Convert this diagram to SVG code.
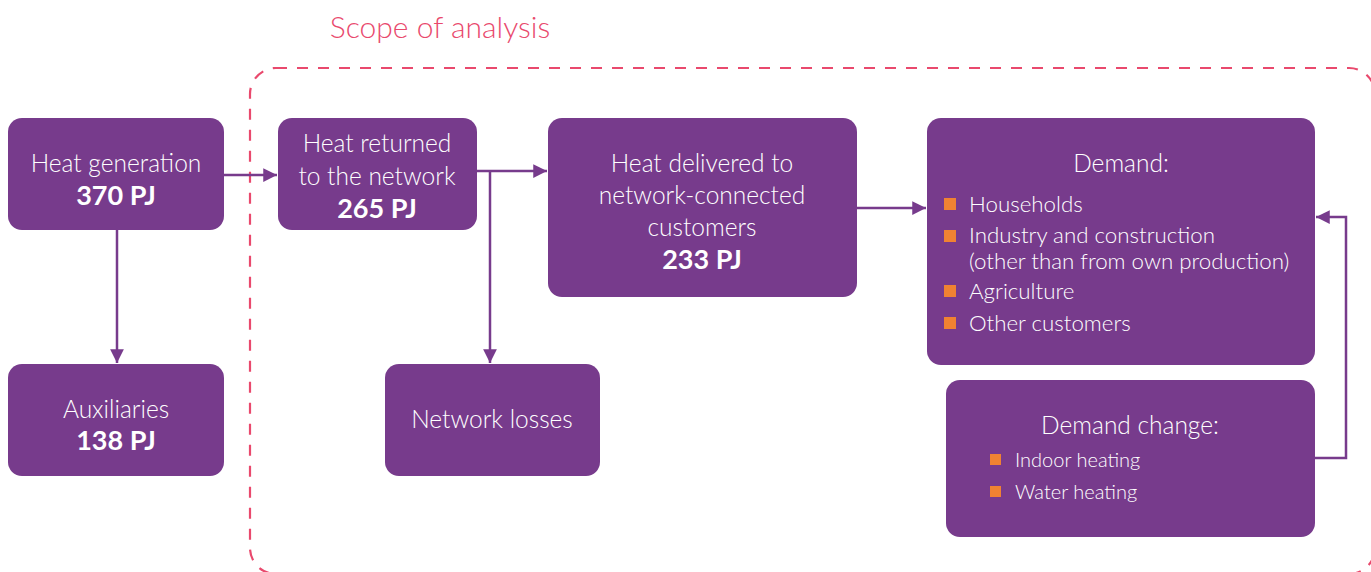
<svg xmlns="http://www.w3.org/2000/svg" width="1371" height="572" viewBox="0 0 1371 572">
<defs>
<marker id="arr" viewBox="0 0 10 10" refX="10" refY="5" markerWidth="6" markerHeight="5.5" markerUnits="strokeWidth" orient="auto">
<path d="M0,0 L10,5 L0,10 z" fill="#773B8C"/>
</marker>
<style>
.box{fill:#773B8C;}
.t{font-family:"Lato","Open Sans",sans-serif;fill:#ffffff;font-size:24.5px;font-weight:300;text-anchor:middle;}
.b{font-weight:bold;font-size:27px;}
.li{font-family:"Lato","Open Sans",sans-serif;fill:#ffffff;font-size:22.3px;font-weight:300;}
.ls{font-family:"Lato","Open Sans",sans-serif;fill:#ffffff;font-size:20px;font-weight:300;}
.bul{fill:#F08232;}
.c{fill:none;stroke:#773B8C;stroke-width:2.5;}
</style>
</defs>
<rect x="0" y="0" width="1371" height="572" fill="#ffffff"/>
<g id="scope">
<rect x="250" y="68" width="1125" height="506" rx="26" fill="none" stroke="#E9496D" stroke-width="2.2" stroke-dasharray="11 10"/>
<text x="440" y="38" font-family="Lato,'Open Sans',sans-serif" font-size="30" font-weight="300" fill="#E9496D" text-anchor="middle">Scope of analysis</text>
</g>
<g id="connectors">
<line class="c" x1="224" y1="175" x2="277" y2="175" marker-end="url(#arr)"/>
<line class="c" x1="117" y1="230" x2="117" y2="363" marker-end="url(#arr)"/>
<line class="c" x1="477" y1="171" x2="547" y2="171" marker-end="url(#arr)"/>
<line class="c" x1="490" y1="171" x2="490" y2="363" marker-end="url(#arr)"/>
<line class="c" x1="857" y1="208" x2="926" y2="208" marker-end="url(#arr)"/>
<polyline class="c" points="1315,458 1346,458 1346,217 1316,217" marker-end="url(#arr)"/>
</g>
<g id="heat-generation">
<rect class="box" x="8" y="118" width="216" height="112" rx="14"/>
<text class="t" x="116" y="172">Heat generation</text>
<text class="t b" x="116" y="205">370 PJ</text>
</g>
<g id="auxiliaries">
<rect class="box" x="8" y="364" width="216" height="112" rx="14"/>
<text class="t" x="116" y="418">Auxiliaries</text>
<text class="t b" x="116" y="450">138 PJ</text>
</g>
<g id="heat-returned">
<rect class="box" x="278" y="118" width="199" height="112" rx="14"/>
<text class="t" x="377" y="152">Heat returned</text>
<text class="t" x="377" y="185">to the network</text>
<text class="t b" x="377" y="218">265 PJ</text>
</g>
<g id="network-losses">
<rect class="box" x="385" y="364" width="215" height="112" rx="14"/>
<text class="t" x="492" y="428">Network losses</text>
</g>
<g id="heat-delivered">
<rect class="box" x="548" y="118" width="309" height="179" rx="14"/>
<text class="t" x="702" y="172">Heat delivered to</text>
<text class="t" x="702" y="204">network-connected</text>
<text class="t" x="702" y="236">customers</text>
<text class="t b" x="702" y="269">233 PJ</text>
</g>
<g id="demand">
<rect class="box" x="927" y="118" width="388" height="247" rx="14"/>
<text class="t" x="1121" y="172">Demand:</text>
<rect class="bul" x="944" y="198" width="12" height="12"/>
<text class="li" x="969" y="212">Households</text>
<rect class="bul" x="944" y="230" width="12" height="12"/>
<text class="li" x="969" y="243">Industry and construction</text>
<text class="li" x="969" y="269">(other than from own production)</text>
<rect class="bul" x="944" y="285" width="12" height="12"/>
<text class="li" x="969" y="299">Agriculture</text>
<rect class="bul" x="944" y="317" width="12" height="12"/>
<text class="li" x="969" y="331">Other customers</text>
</g>
<g id="demand-change">
<rect class="box" x="946" y="380" width="369" height="157" rx="14"/>
<text class="t" x="1130" y="434">Demand change:</text>
<rect class="bul" x="990" y="454" width="11" height="11"/>
<text class="ls" x="1015" y="467">Indoor heating</text>
<rect class="bul" x="990" y="486" width="11" height="11"/>
<text class="ls" x="1015" y="499">Water heating</text>
</g>
</svg>
